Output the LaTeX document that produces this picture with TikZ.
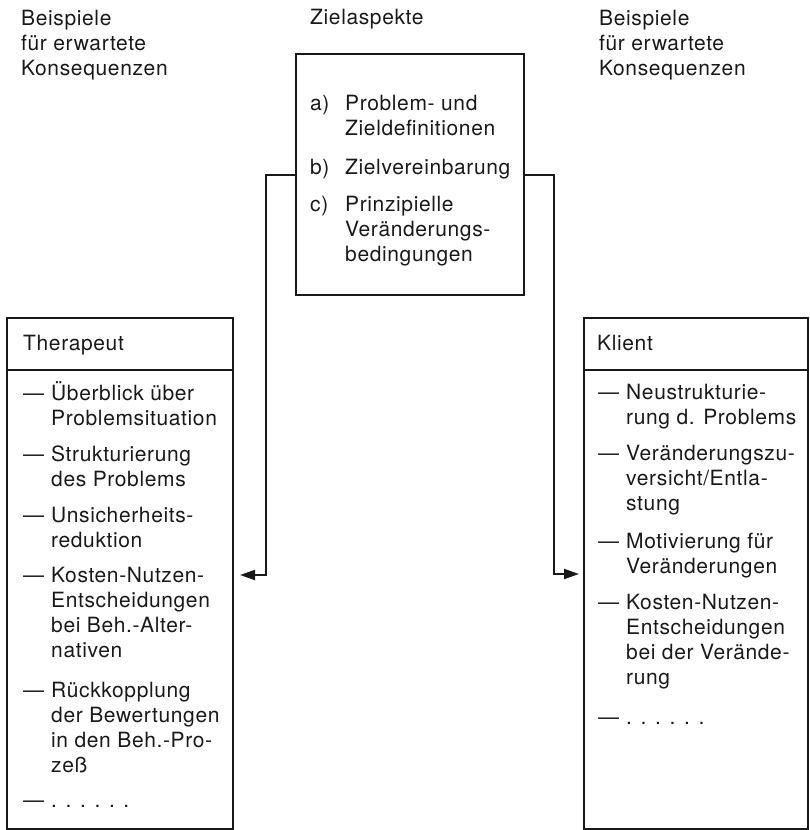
\documentclass[tikz,border=0pt]{standalone}
\usepackage{fontspec}
\setmainfont{TeX Gyre Heros}[LetterSpace=3]
\usetikzlibrary{arrows.meta}

\definecolor{ink}{rgb}{0.1,0.1,0.1}

% strut tall enough for accented capitals, so every block starts at the same baseline offset
\newcommand\topstrut{\rule{0pt}{20pt}}
\newcommand\dash{\makebox[28pt][l]{—}}
\newcommand\dashgap{\hspace*{28pt}}
\newcommand\tag[1]{\makebox[35pt][l]{#1}}
\newcommand\taggap{\hspace*{35pt}}

\tikzset{
  txt/.style={inner sep=0pt, anchor=north west, align=left, text=ink,
              font=\fontsize{21}{25}\selectfont},
  frame/.style={draw=ink, line width=2pt, inner sep=0pt},
  rule/.style={draw=ink, line width=2pt},
  link/.style={draw=ink, line width=2pt,
               -{Triangle[length=15pt,width=10pt]}},
}

\begin{document}
\begin{tikzpicture}[x=1pt,y=-1pt]
\useasboundingbox (0,0) rectangle (810,830);

% column headings
\node[txt] (hl) at (21,5) {\topstrut Beispiele\\für erwartete\\Konsequenzen};
\node[txt] (hc) at (310,4) {\topstrut Zielaspekte};
\node[txt] (hr) at (599,5) {\topstrut Beispiele\\für erwartete\\Konsequenzen};

% goal aspects
\node[frame, minimum width=228pt, minimum height=241pt] (ziel) at (410,174.5) {};
\node[txt] (za) at (310,90)  {\topstrut\tag{a)}Problem- und\\\taggap Zieldefinitionen};
\node[txt] (zb) at (310,154) {\topstrut\tag{b)}Zielvereinbarung};
\node[txt] (zc) at (310,191) {\topstrut\tag{c)}Prinzipielle\\\taggap Veränderungs-\\\taggap bedingungen};

% therapist column
\node[frame, minimum width=226pt, minimum height=511pt] (ther) at (120,573.5) {};
\draw[rule] (ther.west |- 0,370) -- (ther.east |- 0,370);
\node[txt] (tn) at (23,330) {\topstrut Therapeut};
\node[txt] (t1) at (23,380) {\topstrut\dash Überblick über\\\dashgap Problemsituation};
\node[txt] (t2) at (23,441) {\topstrut\dash Strukturierung\\\dashgap des Problems};
\node[txt] (t3) at (23,502) {\topstrut\dash Unsicherheits-\\\dashgap reduktion};
\node[txt] (t4) at (23,562) {\topstrut\dash Kosten-Nutzen-\\\dashgap Entscheidungen\\\dashgap bei Beh.-Alter-\\\dashgap nativen};
\node[txt] (t5) at (23,677) {\topstrut\dash Rückkopplung\\\dashgap der Bewertungen\\\dashgap in den Beh.-Pro-\\\dashgap zeß};
\node[txt] (t6) at (23,787) {\topstrut\dash . . . . . .};

% client column
\node[frame, minimum width=224pt, minimum height=511pt] (kli) at (696,573.5) {};
\draw[rule] (kli.west |- 0,370) -- (kli.east |- 0,370);
\node[txt] (kn) at (597,330) {\topstrut Klient};
\node[txt] (k1) at (598,379) {\topstrut\dash Neustrukturie-\\\dashgap rung d. Problems};
\node[txt] (k2) at (598,440) {\topstrut\dash Veränderungszu-\\\dashgap versicht/Entla-\\\dashgap stung};
\node[txt] (k3) at (598,528) {\topstrut\dash Motivierung für\\\dashgap Veränderungen};
\node[txt] (k4) at (598,589) {\topstrut\dash Kosten-Nutzen-\\\dashgap Entscheidungen\\\dashgap bei der Verände-\\\dashgap rung};
\node[txt] (k5) at (598,704) {\topstrut\dash . . . . . .};

% connectors from the goal box to both columns
\coordinate (lb) at (266,575);
\coordinate (rb) at (554,574);
\draw[link, shorten >=6pt] (ziel.west) -| (lb) -- (lb -| ther.east);
\draw[link, shorten >=4pt] (ziel.east) -| (rb) -- (rb -| kli.west);
\end{tikzpicture}
\end{document}
